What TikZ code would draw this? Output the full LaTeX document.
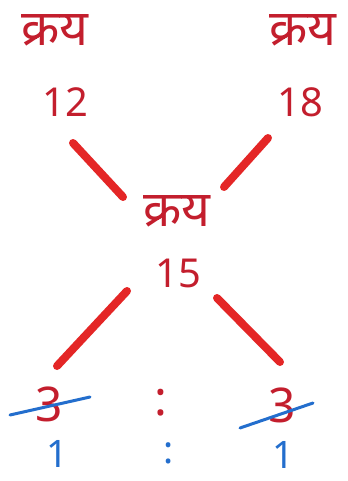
\documentclass[tikz,border=0pt]{standalone}
\usepackage{fontspec}
\setmainfont{Noto Sans}
\newfontfamily\devfont[Script=Devanagari]{Noto Sans}
\definecolor{inkred}{RGB}{195,30,45}
\definecolor{penred}{RGB}{228,38,38}
\definecolor{inkblue}{RGB}{35,110,205}
\begin{document}
\begin{tikzpicture}[
    x=1bp, y=-1bp,
    word/.style={text=inkred, font=\devfont\fontsize{50}{50}\selectfont, inner sep=0pt},
    num/.style={text=inkred, font=\fontsize{40}{40}\selectfont, inner sep=0pt},
    big/.style={num, font=\fontsize{48}{48}\selectfont},
    ratio/.style={num, text=inkblue, font=\fontsize{38}{38}\selectfont},
    stroke/.style={penred, line width=8bp, line cap=round},
    cross/.style={inkblue, line width=3bp, line cap=round}
]
\useasboundingbox[fill=white] (0,0) rectangle (347,481);

% Purchase prices
\node[word] (wleft) at (55,30) {क्रय};
\node[word] (wright) at (303,30) {क्रय};
\node[num] (pleft) at (65,102) {12};
\node[num] (pright) at (300,102) {18};

% Mean price
\node[word] (wmid) at (177,211) {क्रय};
\node[num] (pmid) at (178,273) {15};

% Ratio
\node[big] (dleft) at (49,404) {3};
\node[big] (sepa) at (161,403) {:};
\node[big] (dright) at (282,405) {3};
\node[ratio] (rleft) at (57,454) {1};
\node[ratio] (sepb) at (169,453) {:};
\node[ratio] (rright) at (283,455) {1};

% Stroke ends
\coordinate (a1) at (73,143);  \coordinate (a2) at (123,197);
\coordinate (b1) at (268,138); \coordinate (b2) at (224,187);
\coordinate (c1) at (127,291); \coordinate (c2) at (57,366);
\coordinate (d1) at (217,298); \coordinate (d2) at (280,362);

\draw[stroke] (a1) -- (a2);
\draw[stroke] (b1) -- (b2);
\draw[stroke] (c1) -- (c2);
\draw[stroke] (d1) -- (d2);

% Cancelled values
\draw[cross] ([xshift=-39bp,yshift=-11bp]dleft.center) -- ([xshift=41bp,yshift=7bp]dleft.center);
\draw[cross] ([xshift=-42bp,yshift=-23bp]dright.center) -- ([xshift=31bp,yshift=2bp]dright.center);
\end{tikzpicture}
\end{document}
